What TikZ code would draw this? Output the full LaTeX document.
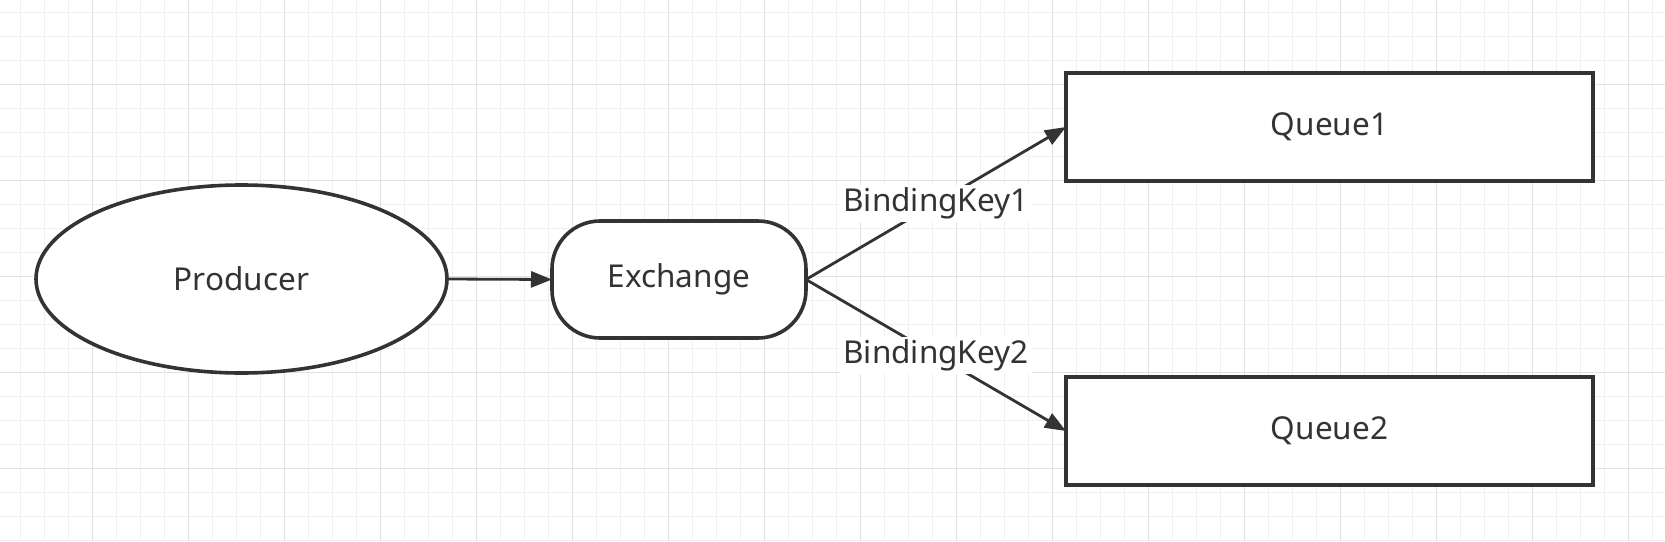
\documentclass[tikz,border=0pt]{standalone}
\usepackage{fontspec}
\setmainfont{Noto Sans}
\usetikzlibrary{arrows.meta,shapes.geometric}
\definecolor{ink}{HTML}{333333}
\definecolor{gridminor}{HTML}{F0F0F0}
\definecolor{gridmajor}{HTML}{E2E2E2}
\tikzset{
  shapeline/.style={draw=ink, line width=3.6pt, fill=white, text=ink, font=\fontsize{31.5}{38}\selectfont, inner sep=0pt, outer sep=0pt},
  ellnode/.style={shapeline, ellipse, minimum width=411pt, minimum height=188pt},
  roundnode/.style={shapeline, rectangle, rounded corners=48pt, minimum width=254pt, minimum height=117pt},
  queuenode/.style={shapeline, rectangle, minimum width=527pt, minimum height=108pt},
  conn/.style={draw=ink, line width=2.8pt, -{Triangle[length=21pt,width=16pt]}},
  edgelabel/.style={fill=white, text=ink, font=\fontsize{31.5}{38}\selectfont, inner sep=3pt}
}
\begin{document}
\begin{tikzpicture}[x=1pt,y=-1pt]
\useasboundingbox (0,0) rectangle (1665,541);
\fill[white] (0,0) rectangle (1665,541);
% grid
\foreach \k in {0,...,68} {\draw[gridminor, line width=1pt] ({20.7+24*\k},0) -- ({20.7+24*\k},541);}
\foreach \k in {0,...,22} {\draw[gridminor, line width=1pt] (0,{12.7+24*\k}) -- (1665,{12.7+24*\k});}
\foreach \k in {0,...,16} {\draw[gridmajor, line width=1pt] ({92.7+96*\k},0) -- ({92.7+96*\k},541);}
\foreach \k in {0,...,5} {\draw[gridmajor, line width=1pt] (0,{84.7+96*\k}) -- (1665,{84.7+96*\k});}
% nodes
\node[ellnode] (prod) at (241.5,279) {Producer};
\node[roundnode] (exch) at (679,279.5) {Exchange};
\node[queuenode] (q1) at (1329.5,127) {Queue1};
\node[queuenode] (q2) at (1329.5,431) {Queue2};
% connectors
\draw[conn] (prod.east) -- (exch.west);
\draw[conn] (exch.east) -- node[edgelabel] {BindingKey1} (q1.west);
\draw[conn] (exch.east) -- node[edgelabel] {BindingKey2} (q2.west);
\end{tikzpicture}
\end{document}
